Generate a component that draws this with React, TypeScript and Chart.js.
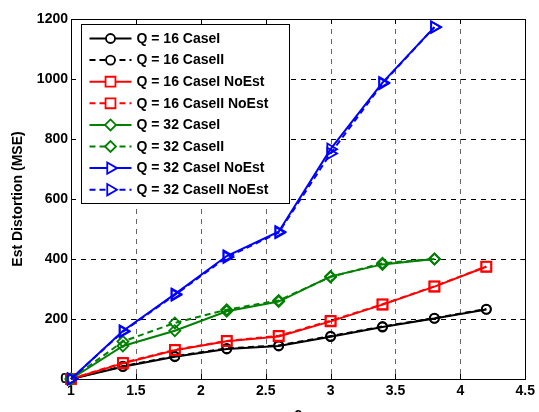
import React, { useEffect, useRef } from 'react';
import { Chart, registerables } from 'chart.js';
import { drawPoint } from 'chart.js/helpers';

Chart.register(...registerables);

const xValues = [1, 1.4, 1.8, 2.2, 2.6, 3.0, 3.4, 3.8, 4.2];
const q16CaseI = [0, 41, 74, 100, 110, 141, 173, 202, 232];
const q16CaseII = [0, 43, 76, 102, 112, 143, 175, 203, 233];
const q16CaseINoEst = [0, 52, 96, 126, 142, 192, 248, 308, 374];
const q16CaseIINoEst = [0, 54, 97, 127, 144, 194, 249, 309, 375];
const q32CaseI = [0, 110, 161, 226, 258, 342, 382, 400];
const q32CaseII = [0, 125, 187, 231, 262, 340, 386, 400];
const q32CaseINoEst = [0, 160, 283, 410, 491, 766, 988, 1173];
const q32CaseIINoEst = [0, 158, 280, 406, 488, 752, 985, 1173];
const seriesLabels = [
  'Q = 16 CaseI',
  'Q = 16 CaseII',
  'Q = 16 CaseI NoEst',
  'Q = 16 CaseII NoEst',
  'Q = 32 CaseI',
  'Q = 32 CaseII',
  'Q = 32 CaseI NoEst',
  'Q = 32 CaseII NoEst',
];
const xTicks = [1, 1.5, 2, 2.5, 3, 3.5, 4, 4.5];
const yTicks = [0, 200, 400, 600, 800, 1000, 1200];
const xTitle = 'c';
const yTitle = 'Est Distortion (MSE)';

const FONT = '"Liberation Sans", Arial, Helvetica, sans-serif';

export default function App() {
  const ref = useRef<HTMLCanvasElement>(null);

  useEffect(() => {
    const canvas = ref.current;
    if (!canvas) return;

    const seriesData = [
      q16CaseI, q16CaseII, q16CaseINoEst, q16CaseIINoEst,
      q32CaseI, q32CaseII, q32CaseINoEst, q32CaseIINoEst,
    ];
    const colors = ['#000000', '#000000', '#ff0000', '#ff0000', '#008000', '#008000', '#0000ff', '#0000ff'];
    const styles = ['circle', 'circle', 'rect', 'rect', 'rectRot', 'rectRot', 'triangle', 'triangle'];
    const radii = [4.5, 4.5, 7, 7, 5.5, 5.5, 6.5, 6.5];
    const rotations = [0, 0, 0, 0, 0, 0, 90, 90];

    const datasets = seriesData.map((vals, i) => ({
      label: seriesLabels[i],
      data: vals.map((y, j) => ({ x: xValues[j], y })),
      borderColor: colors[i],
      backgroundColor: 'rgba(0,0,0,0)',
      borderWidth: 2,
      borderDash: i % 2 === 1 ? [6, 4] : [],
      pointStyle: styles[i],
      pointRadius: radii[i],
      pointHoverRadius: radii[i],
      pointRotation: rotations[i],
      pointBorderColor: colors[i],
      pointBackgroundColor: 'rgba(0,0,0,0)',
      pointBorderWidth: 1.8,
      tension: 0,
      clip: false as any,
      order: -i,
    }));

    const framePlugin = {
      id: 'frame',
      beforeDatasetsDraw(chart: any) {
        const { ctx, chartArea } = chart;
        const { left, right, top, bottom } = chartArea;
        const xs = chart.scales.x;
        const ys = chart.scales.y;
        ctx.save();
        // dashed grid
        ctx.lineWidth = 1;
        ctx.setLineDash([5, 5]);
        ctx.strokeStyle = '#666';
        ctx.beginPath();
        xTicks.forEach((t) => {
          const px = Math.round(xs.getPixelForValue(t)) + 0.5;
          ctx.moveTo(px, top);
          ctx.lineTo(px, bottom);
        });
        ctx.stroke();
        ctx.strokeStyle = '#000';
        ctx.beginPath();
        yTicks.forEach((t) => {
          const py = Math.round(ys.getPixelForValue(t)) + 0.5;
          ctx.moveTo(left, py);
          ctx.lineTo(right, py);
        });
        ctx.stroke();
        // box
        ctx.setLineDash([]);
        ctx.strokeStyle = '#000';
        ctx.strokeRect(Math.round(left) + 0.5, Math.round(top) + 0.5, Math.round(right - left), Math.round(bottom - top));
        ctx.beginPath();
        xTicks.forEach((t) => {
          const px = Math.round(xs.getPixelForValue(t)) + 0.5;
          ctx.moveTo(px, bottom);
          ctx.lineTo(px, bottom - 5);
          ctx.moveTo(px, top);
          ctx.lineTo(px, top + 5);
        });
        yTicks.forEach((t) => {
          const py = Math.round(ys.getPixelForValue(t)) + 0.5;
          ctx.moveTo(left, py);
          ctx.lineTo(left + 5, py);
          ctx.moveTo(right, py);
          ctx.lineTo(right - 5, py);
        });
        ctx.stroke();
        ctx.restore();
      },
      afterDraw(chart: any) {
        const { ctx, chartArea } = chart;
        const bx = Math.round(chartArea.left) + 10.5;
        const by = Math.round(chartArea.top) + 5.5;
        const bw = 208;
        const bh = 179;
        ctx.save();
        ctx.fillStyle = '#fff';
        ctx.fillRect(bx, by, bw, bh);
        ctx.strokeStyle = '#000';
        ctx.lineWidth = 1;
        ctx.setLineDash([]);
        ctx.strokeRect(bx, by, bw, bh);
        chart.data.datasets.forEach((ds: any, i: number) => {
          const y = by + 14 + i * 21.6;
          const x0 = bx + 8;
          const x1 = bx + 50;
          ctx.strokeStyle = ds.borderColor;
          ctx.lineWidth = 2;
          ctx.setLineDash(ds.borderDash || []);
          ctx.beginPath();
          ctx.moveTo(x0, y);
          ctx.lineTo(x1, y);
          ctx.stroke();
          ctx.setLineDash([]);
          ctx.strokeStyle = ds.pointBorderColor;
          ctx.lineWidth = ds.pointBorderWidth;
          ctx.fillStyle = '#fff';
          drawPoint(ctx, {
            pointStyle: ds.pointStyle,
            rotation: ds.pointRotation,
            radius: ds.pointRadius,
            borderWidth: ds.pointBorderWidth,
          } as any, (x0 + x1) / 2, y);
          ctx.fillStyle = '#000';
          ctx.font = `bold 14px ${FONT}`;
          ctx.textBaseline = 'middle';
          ctx.textAlign = 'left';
          ctx.fillText(ds.label, bx + 55, y + 0.5);
        });
        ctx.restore();
      },
    };

    const chart = new Chart(canvas, {
      type: 'line',
      data: { datasets: datasets as any },
      options: {
        responsive: false,
        animation: false,
        devicePixelRatio: 1,
        events: [],
        layout: { padding: { top: 19, right: 12, left: 0, bottom: 0 } },
        plugins: {
          legend: { display: false },
          tooltip: { enabled: false },
          title: { display: false },
        },
        scales: {
          x: {
            type: 'linear',
            min: 1,
            max: 4.5,
            afterBuildTicks: (scale: any) => {
              scale.ticks = xTicks.map((v) => ({ value: v }));
            },
            afterFit: (scale: any) => {
              scale.height = 33;
            },
            ticks: {
              color: '#000',
              font: { family: FONT, size: 14, weight: 'bold' },
              padding: 4,
              maxRotation: 0,
              autoSkip: false,
              callback: (v: any) => String(v),
            },
            grid: { display: false, drawTicks: false },
            border: { display: false },
            title: {
              display: true,
              text: xTitle,
              color: '#000',
              font: { family: FONT, size: 14, weight: 'bold' },
              padding: { top: 0, bottom: -11 },
            },
          },
          y: {
            type: 'linear',
            min: 0,
            max: 1200,
            afterBuildTicks: (scale: any) => {
              scale.ticks = yTicks.map((v) => ({ value: v }));
            },
            afterFit: (scale: any) => {
              scale.width = 71;
            },
            ticks: {
              color: '#000',
              font: { family: FONT, size: 14, weight: 'bold' },
              padding: 3,
              autoSkip: false,
              callback: (v: any) => String(v),
            },
            grid: { display: false, drawTicks: false },
            border: { display: false },
            title: {
              display: true,
              text: yTitle,
              color: '#000',
              font: { family: FONT, size: 14, weight: 'bold' },
              padding: { top: 10, bottom: 0 },
            },
          },
        },
      } as any,
      plugins: [framePlugin],
    });

    return () => chart.destroy();
  }, []);

  return (
    <div style={{ position: 'absolute', left: 0, top: 0, width: 539, height: 412, background: '#fff' }}>
      <canvas ref={ref} width={539} height={412} style={{ display: 'block', width: 539, height: 412 }} />
    </div>
  );
}
